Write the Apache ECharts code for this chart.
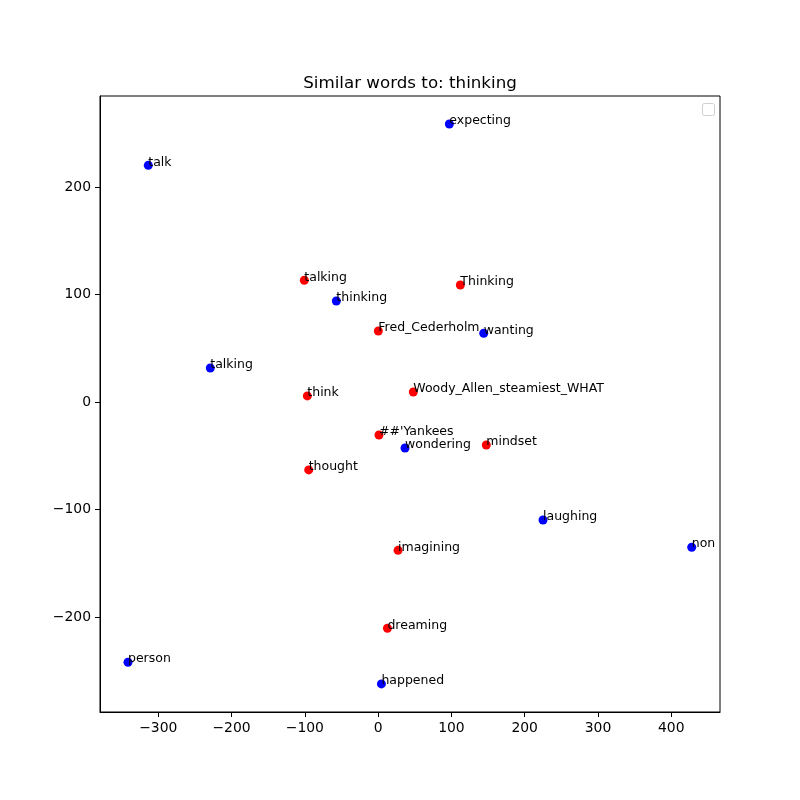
<!DOCTYPE html>
<html>
<head>
<meta charset="utf-8">
<script src="https://cdn.jsdelivr.net/npm/echarts@6/dist/echarts.min.js"></script>
<style>
  html, body { margin: 0; padding: 0; background: #fff; }
  #chart { width: 800px; height: 800px; }
</style>
</head>
<body>
<div id="chart"></div>
<script>
// words close to "thinking" (blue) and the other model's neighbours (red)
const blueWords = ['expecting', 'talk', 'thinking', 'wanting', 'talking', 'wondering', 'laughing', 'non', 'person', 'happened'];
const blueX = [97.2, -313.6, -57.0, 144.1, -229.0, 36.7, 225.0, 427.9, -341.3, 4.5];
const blueY = [258.6, 220.1, 93.9, 63.9, 31.6, -42.8, -109.8, -135.1, -242.1, -262.3];

const redWords = ['talking', 'Thinking', 'Fred_Cederholm', 'think', 'Woody_Allen_steamiest_WHAT', "##'Yankees", 'mindset', 'thought', 'imagining', 'dreaming'];
const redX = [-100.7, 112.2, 0.3, -96.6, 48.0, 1.2, 147.6, -94.7, 27.2, 12.7];
const redY = [113.2, 108.8, 66.0, 5.6, 9.3, -30.7, -40.0, -63.2, -138.0, -210.5];

const xTicks = [-300, -200, -100, 0, 100, 200, 300, 400];
const yTicks = [-200, -100, 0, 100, 200];

const font = 'DejaVu Sans';
const minus = v => String(v).replace('-', '\u2212');

const chart = echarts.init(document.getElementById('chart'));

function pointSeries(words, xs, ys, color) {
  return {
    type: 'scatter',
    symbol: 'circle',
    symbolSize: 9,
    itemStyle: { color: color, opacity: 1 },
    data: xs.map((x, i) => ({ value: [x, ys[i]], name: words[i] })),
    label: {
      show: true,
      formatter: p => p.name,
      position: [4.5, 1.5],
      align: 'left',
      verticalAlign: 'middle',
      fontFamily: font,
      fontSize: 12.5,
      color: '#000'
    },
    labelLayout: { hideOverlap: false },
    z: 3
  };
}

const axisCommon = {
  type: 'value',
  splitLine: { show: false },
  axisLine: { show: true, onZero: false, lineStyle: { color: '#000', width: 1 } },
  axisTick: { show: true, inside: false, length: 5, lineStyle: { color: '#000', width: 1 } },
  axisLabel: { color: '#000', fontFamily: font, fontSize: 13.9, margin: 9, formatter: minus }
};

chart.setOption({
  animation: false,
  backgroundColor: '#fff',
  title: {
    text: 'Similar words to: thinking',
    left: 405,
    textAlign: 'center',
    top: 70,
    textStyle: { fontFamily: font, fontSize: 16.7, fontWeight: 'normal', color: '#000' }
  },
  grid: { left: 100, right: 80, top: 96, bottom: 88, show: true, borderColor: '#000', borderWidth: 1 },
  xAxis: {
    ...axisCommon,
    min: -379.5,
    max: 466.5,
    axisTick: { ...axisCommon.axisTick, customValues: xTicks },
    axisLabel: { ...axisCommon.axisLabel, customValues: xTicks }
  },
  yAxis: {
    ...axisCommon,
    min: -288.4,
    max: 284.6,
    axisTick: { ...axisCommon.axisTick, customValues: yTicks },
    axisLabel: { ...axisCommon.axisLabel, customValues: yTicks }
  },
  // matplotlib's empty legend frame
  graphic: [{
    type: 'rect',
    left: 702,
    top: 103,
    shape: { width: 12, height: 12, r: 2 },
    style: { fill: '#fff', stroke: '#d0d0d0', lineWidth: 1 }
  }],
  series: [
    pointSeries(blueWords, blueX, blueY, '#0000ff'),
    pointSeries(redWords, redX, redY, '#ff0000')
  ]
});
</script>
</body>
</html>
